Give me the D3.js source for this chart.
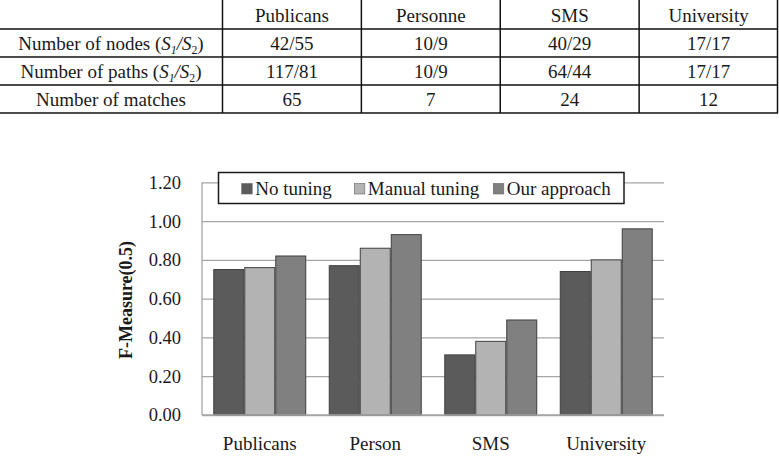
<!DOCTYPE html>
<html>
<head>
<meta charset="utf-8">
<script src="https://cdn.jsdelivr.net/npm/d3@7/dist/d3.min.js"></script>
<style>
  html, body { margin: 0; padding: 0; background: #fff; }
  svg { display: block; }
  svg text, svg tspan { font-family: "Liberation Serif", Tinos, "Times New Roman", serif !important; }
</style>
</head>
<body>
<svg id="chart" width="779" height="461" font-family="Liberation Serif"></svg>
<script>
// ---------- Data ----------
const tableColumns = ["Publicans", "Personne", "SMS", "University"];
const tableRowLabels = ["Number of nodes", "Number of paths", "Number of matches"];
const nodesRow = ["42/55", "10/9", "40/29", "17/17"];
const pathsRow = ["117/81", "10/9", "64/44", "17/17"];
const matchesRow = ["65", "7", "24", "12"];

const categories = ["Publicans", "Person", "SMS", "University"];
const seriesNames = ["No tuning", "Manual tuning", "Our approach"];
const noTuning = [0.75, 0.77, 0.31, 0.74];
const manualTuning = [0.76, 0.86, 0.38, 0.80];
const ourApproach = [0.82, 0.93, 0.49, 0.96];
const yTicks = [0, 0.2, 0.4, 0.6, 0.8, 1.0, 1.2];
const yTitle = "F-Measure(0.5)";

const seriesValues = [noTuning, manualTuning, ourApproach];
const colors = ["#5b5b5b", "#b3b3b3", "#808080"];
const FONT = '"Liberation Serif", Tinos, "Times New Roman", serif';
const TXT = "#1a1a1a";

const svg = d3.select("#chart");
svg.append("rect").attr("width", 779).attr("height", 461).attr("fill", "#fff");

// ---------- Table ----------
const colX = d3.scaleBand().domain(tableColumns).range([222.5, 778]);
const rowY = d3.scaleBand().domain(["header", ...tableRowLabels]).range([1, 113]);
const tbl = svg.append("g");
const lineColor = "#111";
[29, 57, 85, 113].forEach(yy => {
  tbl.append("line").attr("x1", 0).attr("x2", 778).attr("y1", yy).attr("y2", yy)
    .attr("stroke", lineColor).attr("stroke-width", 1.5);
});
tableColumns.forEach(c => {
  tbl.append("line").attr("x1", colX(c)).attr("x2", colX(c)).attr("y1", 0).attr("y2", 113)
    .attr("stroke", lineColor).attr("stroke-width", 1.5);
});
tbl.append("line").attr("x1", 777.5).attr("x2", 777.5).attr("y1", 0).attr("y2", 113)
  .attr("stroke", lineColor).attr("stroke-width", 1.5);

const tfs = 19;
const rowMid = r => rowY(r) + rowY.bandwidth() / 2 + 0.5;

const tableRows = [["header", tableColumns], [tableRowLabels[0], nodesRow], [tableRowLabels[1], pathsRow], [tableRowLabels[2], matchesRow]];
tableRows.forEach(([key, vals]) => {
  const ax = d3.axisBottom(colX).tickSize(0).tickPadding(0).tickFormat((d, i) => vals[i]);
  const ag = tbl.append("g").attr("transform", `translate(0,${rowMid(key)})`).call(ax);
  ag.attr("font-family", FONT);
  ag.select(".domain").remove();
  ag.selectAll(".tick text").attr("dy", "0.32em").attr("font-size", tfs).attr("fill", TXT);
});
const rowLabelScale = d3.scaleBand().domain(["header", ...tableRowLabels]).range([1.5, 113.5]);
const rowAx = d3.axisLeft(rowLabelScale).tickSize(0).tickPadding(0).tickValues(tableRowLabels);
const rg = tbl.append("g").attr("transform", "translate(111,0)").call(rowAx);
rg.attr("font-family", FONT).attr("text-anchor", "middle");
rg.select(".domain").remove();
rg.selectAll(".tick text").attr("x", 0).attr("font-size", tfs).attr("fill", TXT)
  .each(function (d, i) {
    const t = d3.select(this);
    if (i < 2) {
      t.text(null);
      t.append("tspan").text(d + " (");
      t.append("tspan").attr("font-style", "italic").text("S");
      t.append("tspan").attr("font-style", "italic").attr("font-size", tfs * 0.62).attr("dy", 4).text("1");
      t.append("tspan").attr("font-style", "italic").attr("dy", -4).text("/S");
      t.append("tspan").attr("font-size", tfs * 0.62).attr("dy", 4).text("2");
      t.append("tspan").attr("dy", -4).text(")");
    }
  });

// ---------- Chart ----------
const pLeft = 202, pRight = 664, pTop = 182.3, pBottom = 415;
const y = d3.scaleLinear().domain([0, 1.2]).range([pBottom, pTop]);
const x0 = d3.scaleBand().domain(categories).range([pLeft, pRight]).paddingInner(0.195).paddingOuter(0.0975);
const x1 = d3.scaleBand().domain(seriesNames).range([0, x0.bandwidth()]);

const g = svg.append("g");
const yAxis = d3.axisLeft(y).tickValues(yTicks).tickFormat(d3.format(".2f"))
  .tickSize(-(pRight - pLeft)).tickPadding(21);
const ya = g.append("g").attr("transform", `translate(${pLeft},0)`).call(yAxis);
ya.attr("font-family", FONT);
ya.select(".domain").remove();
ya.selectAll(".tick line").attr("stroke", "#a6a6a6").attr("stroke-width", 1.3);
ya.selectAll(".tick text").attr("font-size", 18.5).attr("fill", TXT);
g.append("line").attr("x1", pLeft).attr("x2", pLeft).attr("y1", pTop).attr("y2", pBottom)
  .attr("stroke", "#a6a6a6").attr("stroke-width", 1.3);

const groups = g.selectAll("g.grp").data(categories).join("g").attr("class", "grp")
  .attr("transform", d => `translate(${x0(d)},0)`);
groups.selectAll("rect").data((d, i) => seriesNames.map((s, si) => ({ s, si, v: seriesValues[si][i] })))
  .join("rect")
  .attr("x", d => x1(d.s) + 0.5)
  .attr("width", x1.bandwidth() - 1)
  .attr("y", d => y(d.v))
  .attr("height", d => y(0) - y(d.v))
  .attr("fill", d => colors[d.si])
  .attr("stroke", "#3f3f3f").attr("stroke-width", 1);

g.append("line").attr("x1", pLeft).attr("x2", pRight).attr("y1", pBottom).attr("y2", pBottom)
  .attr("stroke", "#a6a6a6").attr("stroke-width", 1.3);

const xAxis = d3.axisBottom(x0).tickSize(0).tickPadding(22);
const xa = g.append("g").attr("transform", `translate(0,${pBottom})`).call(xAxis);
xa.attr("font-family", FONT);
xa.select(".domain").remove();
xa.selectAll(".tick text").attr("font-size", 19).attr("fill", TXT);

g.append("text").attr("transform", `translate(132,300) rotate(-90)`)
  .attr("text-anchor", "middle").attr("font-weight", "bold").attr("font-size", 18)
  .attr("fill", TXT).text(yTitle);

const lg = g.append("g");
lg.append("rect").attr("x", 218.5).attr("y", 172.5).attr("width", 405.5).attr("height", 31)
  .attr("fill", "#fff").attr("stroke", "#1a1a1a").attr("stroke-width", 1.5);
const legendX = [241.7, 354.3, 493.3];
const legendScale = d3.scaleOrdinal().domain(seriesNames).range(legendX);
seriesNames.forEach((s, i) => {
  lg.append("rect").attr("x", legendScale(s)).attr("y", 183.5).attr("width", 10.5).attr("height", 10.5)
    .attr("fill", colors[i]).attr("stroke", "#666").attr("stroke-width", 0.6);
});
const legendTextScale = d3.scaleOrdinal().domain(seriesNames).range(legendX.map(v => v + 13));
const legAx = d3.axisBottom(legendTextScale).tickSize(0).tickPadding(0);
const lga = lg.append("g").attr("transform", "translate(0,188.5)").call(legAx);
lga.attr("font-family", FONT).attr("text-anchor", "start");
lga.select(".domain").remove();
lga.selectAll(".tick text").attr("dy", "0.32em").attr("font-size", 19).attr("fill", TXT);
</script>
</body>
</html>
